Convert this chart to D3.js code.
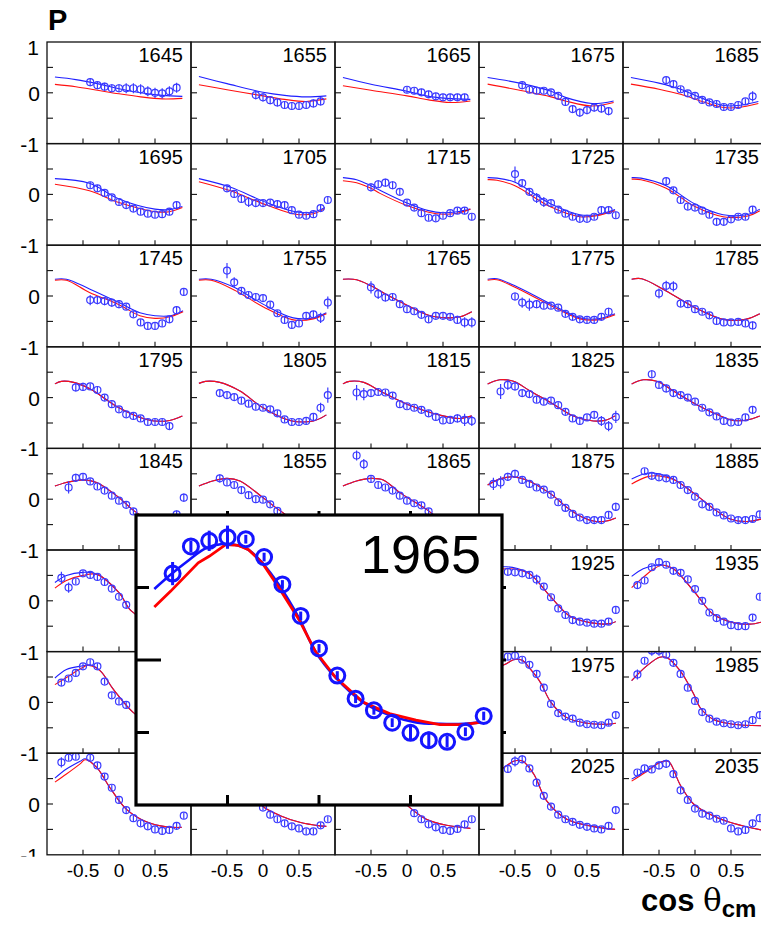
<!DOCTYPE html>
<html>
<head>
<meta charset="utf-8">
<script src="https://cdn.jsdelivr.net/npm/d3@7"></script>
<style>
  html, body { margin: 0; background: #fff; }
  svg { display: block; font-family: "Liberation Sans", Arial, sans-serif; }
</style>
</head>
<body>
<svg id="chart" width="761" height="926"></svg>
<script>
/* Polarisation P vs cos(theta_cm), one small panel per energy bin,
 * plus an enlarged copy of the 1965 bin on top. */

const energies = [
  1645, 1655, 1665, 1675, 1685,
  1695, 1705, 1715, 1725, 1735,
  1745, 1755, 1765, 1775, 1785,
  1795, 1805, 1815, 1825, 1835,
  1845, 1855, 1865, 1875, 1885,
  1895, 1905, 1915, 1925, 1935,
  1945, 1955, 1965, 1975, 1985,
  1995, 2005, 2015, 2025, 2035
];

// data points per panel: [cos theta, P, error]  (error missing -> 0.06)
const points = [
  [[-0.4,0.21,0.08],[-0.3,0.15,0.08],[-0.2,0.12,0.08],[-0.1,0.09,0.08],[0,0.09,0.08],[0.1,0.09,0.1],[0.2,0.09,0.1],[0.3,0.07,0.1],[0.4,0.03,0.1],[0.5,0.0,0.1],[0.6,-0.01,0.1],[0.7,0.03,0.1],[0.8,0.1,0.1]],
  [[-0.1,-0.045,0.08],[0,-0.09,0.08],[0.1,-0.145,0.08],[0.2,-0.19,0.08],[0.3,-0.24,0.08],[0.4,-0.26,0.08],[0.5,-0.26,0.08],[0.6,-0.24,0.08],[0.7,-0.21,0.08],[0.8,-0.17,0.08]],
  [[0,0.06,0.07],[0.1,0.04,0.07],[0.2,0.01,0.07],[0.3,-0.03,0.07],[0.4,-0.07,0.07],[0.5,-0.09,0.07],[0.6,-0.09,0.07],[0.7,-0.09,0.07],[0.8,-0.09,0.07]],
  [[-0.4,0.15,0.08],[-0.3,0.06],[-0.2,0.04],[-0.1,0.04],[0,0.01],[0.1,-0.06],[0.2,-0.18,0.08],[0.3,-0.32,0.08],[0.4,-0.39,0.08],[0.5,-0.34,0.08],[0.6,-0.29,0.08],[0.7,-0.31,0.08],[0.8,-0.36,0.08]],
  [[-0.4,0.25],[-0.3,0.17],[-0.2,0.07],[-0.1,-0.01],[0,-0.06],[0.1,-0.14],[0.2,-0.19],[0.3,-0.22],[0.4,-0.28],[0.5,-0.28],[0.6,-0.24],[0.7,-0.17],[0.8,-0.07,0.1]],
  [[-0.4,0.18,0.07],[-0.3,0.12,0.07],[-0.2,0.03,0.07],[-0.1,-0.06],[0,-0.15],[0.1,-0.21],[0.2,-0.28],[0.3,-0.34],[0.4,-0.38],[0.5,-0.40],[0.6,-0.39,0.07],[0.7,-0.34,0.07],[0.8,-0.21,0.07]],
  [[-0.5,0.12,0.07],[-0.4,0.01,0.07],[-0.3,-0.09,0.07],[-0.2,-0.15,0.1],[-0.1,-0.17,0.07],[0,-0.17],[0.1,-0.16],[0.2,-0.19],[0.3,-0.21,0.07],[0.4,-0.31],[0.5,-0.40],[0.6,-0.42],[0.7,-0.39],[0.8,-0.27,0.07],[0.9,-0.11,0.08]],
  [[-0.5,0.14,0.08],[-0.4,0.20,0.08],[-0.3,0.23,0.08],[-0.2,0.18,0.08],[-0.1,0.05],[0,-0.16],[0.1,-0.26],[0.2,-0.37],[0.3,-0.46],[0.4,-0.47],[0.5,-0.42],[0.6,-0.37],[0.7,-0.32],[0.8,-0.32,0.07],[0.9,-0.44,0.07]],
  [[-0.5,0.40,0.15],[-0.4,0.22,0.08],[-0.3,0.05],[-0.2,-0.07,0.1],[-0.1,-0.15,0.1],[0,-0.17,0.07],[0.1,-0.30],[0.2,-0.38],[0.3,-0.44],[0.4,-0.48],[0.5,-0.48],[0.6,-0.44],[0.7,-0.31,0.07],[0.8,-0.31,0.07],[0.9,-0.41,0.07]],
  [[-0.4,0.26,0.07],[-0.3,0.08],[-0.2,-0.11],[-0.1,-0.24],[0,-0.26],[0.1,-0.32],[0.2,-0.40],[0.3,-0.54],[0.4,-0.54],[0.5,-0.49],[0.6,-0.44],[0.7,-0.44],[0.8,-0.30,0.07]],
  [[-0.4,-0.08,0.1],[-0.3,-0.08,0.08],[-0.2,-0.10,0.08],[-0.1,-0.13,0.08],[0,-0.16,0.08],[0.1,-0.21],[0.2,-0.36],[0.3,-0.52],[0.4,-0.59],[0.5,-0.59],[0.6,-0.54],[0.7,-0.46,0.07],[0.8,-0.28,0.07],[0.9,0.08]],
  [[-0.5,0.5,0.15],[-0.4,0.27,0.1],[-0.3,0.1],[-0.2,0.02],[-0.1,-0.02],[0,-0.04],[0.1,-0.17],[0.2,-0.34],[0.3,-0.47],[0.4,-0.57],[0.5,-0.54],[0.6,-0.39],[0.7,-0.36,0.07],[0.8,-0.43,0.1],[0.9,-0.13,0.12]],
  [[-0.5,0.17,0.12],[-0.4,0.04,0.1],[-0.3,-0.03,0.08],[-0.2,-0.02],[-0.1,-0.16],[0,-0.26],[0.1,-0.30],[0.2,-0.37],[0.3,-0.46],[0.4,-0.39],[0.5,-0.39],[0.6,-0.41],[0.7,-0.47,0.08],[0.8,-0.52,0.1],[0.9,-0.52,0.1]],
  [[-0.5,-0.01,0.08],[-0.4,-0.13,0.1],[-0.3,-0.17,0.12],[-0.2,-0.16,0.08],[-0.1,-0.19],[0,-0.19],[0.1,-0.23],[0.2,-0.35],[0.3,-0.41],[0.4,-0.46],[0.5,-0.47],[0.6,-0.47],[0.7,-0.41],[0.8,-0.31,0.08]],
  [[-0.5,0.05,0.1],[-0.4,0.2,0.1],[-0.3,0.19,0.1],[-0.2,-0.15],[-0.1,-0.16],[0,-0.26],[0.1,-0.31],[0.2,-0.38],[0.3,-0.49],[0.4,-0.52],[0.5,-0.52],[0.6,-0.51],[0.7,-0.54],[0.8,-0.58,0.08]],
  [[-0.6,0.2,0.08],[-0.5,0.21,0.08],[-0.4,0.22],[-0.3,0.15],[-0.2,0.0],[-0.1,-0.13],[0,-0.23],[0.1,-0.33],[0.2,-0.36],[0.3,-0.41],[0.4,-0.48],[0.5,-0.48],[0.6,-0.48],[0.7,-0.56]],
  [[-0.6,0.09],[-0.5,0.05],[-0.4,0.01],[-0.3,-0.06],[-0.2,-0.12],[-0.1,-0.18],[0,-0.2],[0.1,-0.23],[0.2,-0.31],[0.3,-0.43],[0.4,-0.48],[0.5,-0.48],[0.6,-0.46],[0.7,-0.38],[0.8,-0.2,0.1],[0.9,0.05,0.15]],
  [[-0.7,0.1,0.15],[-0.6,0.07,0.12],[-0.5,0.09],[-0.4,0.11],[-0.3,0.1],[-0.2,0.04],[-0.1,-0.13],[0,-0.17],[0.1,-0.2],[0.2,-0.24],[0.3,-0.31],[0.4,-0.38],[0.5,-0.45],[0.6,-0.44],[0.7,-0.41,0.08],[0.8,-0.44,0.12],[0.9,-0.46,0.1]],
  [[-0.7,0.12,0.15],[-0.6,0.25,0.1],[-0.5,0.22,0.08],[-0.4,0.09],[-0.3,0.07],[-0.2,-0.04],[-0.1,-0.08],[0,-0.06],[0.1,-0.15],[0.2,-0.28],[0.3,-0.41],[0.4,-0.46],[0.5,-0.39],[0.6,-0.34],[0.7,-0.46,0.1],[0.8,-0.56,0.1],[0.9,-0.38,0.12]],
  [[-0.6,0.46,0.08],[-0.5,0.25],[-0.4,0.18,0.08],[-0.3,0.09],[-0.2,0.05],[-0.1,0.0],[0,-0.08],[0.1,-0.2],[0.2,-0.29],[0.3,-0.37],[0.4,-0.46],[0.5,-0.49],[0.6,-0.48],[0.7,-0.39],[0.8,-0.24,0.07]],
  [[-0.7,0.23,0.12],[-0.6,0.42,0.08],[-0.5,0.44],[-0.4,0.35],[-0.3,0.25],[-0.2,0.17],[-0.1,0.07],[0,-0.03],[0.1,-0.11],[0.2,-0.24],[0.8,-0.3,0.08],[0.9,0.03,0.08]],
  [[-0.6,0.41,0.08],[-0.5,0.33],[-0.4,0.28],[-0.3,0.18],[-0.2,0.08],[-0.1,0.0],[0,-0.01],[0.1,-0.1],[0.2,-0.23]],
  [[-0.7,0.86,0.1],[-0.6,0.69,0.1],[-0.5,0.4],[-0.4,0.28],[-0.3,0.23],[-0.2,0.17],[-0.1,0.07],[0,-0.03],[0.1,-0.08],[0.2,-0.12],[0.3,-0.24]],
  [[-0.8,0.3,0.12],[-0.7,0.33,0.12],[-0.6,0.44,0.08],[-0.5,0.5,0.08],[-0.4,0.38],[-0.3,0.3],[-0.2,0.23],[-0.1,0.19],[0,0.09],[0.1,-0.06],[0.2,-0.17],[0.3,-0.29],[0.4,-0.36],[0.5,-0.41],[0.6,-0.41],[0.7,-0.41],[0.8,-0.31],[0.9,-0.15,0.08]],
  [[-0.7,0.55],[-0.6,0.46],[-0.5,0.43],[-0.4,0.41],[-0.3,0.38],[-0.2,0.28],[-0.1,0.18],[0,0.05],[0.1,-0.1],[0.2,-0.15],[0.3,-0.26],[0.4,-0.32],[0.5,-0.38],[0.6,-0.41],[0.7,-0.41],[0.8,-0.39],[0.9,-0.3,0.07]],
  [[-0.8,0.45,0.12],[-0.7,0.26,0.1],[-0.6,0.38],[-0.5,0.54],[-0.4,0.51],[-0.3,0.47],[-0.2,0.37],[-0.1,0.24],[0,0.08],[0.1,-0.08]],
  [],
  [],
  [[-0.6,0.57],[-0.5,0.56],[-0.4,0.54],[-0.3,0.51],[-0.2,0.42,0.1],[-0.1,0.28],[0,0.07],[0.1,-0.15],[0.2,-0.28],[0.3,-0.38],[0.4,-0.41],[0.5,-0.43],[0.6,-0.45],[0.7,-0.45],[0.8,-0.41],[0.9,-0.18]],
  [[-0.8,0.31,0.08],[-0.7,0.4],[-0.6,0.66],[-0.5,0.76,0.08],[-0.4,0.71],[-0.3,0.59],[-0.2,0.55],[-0.1,0.42],[0,0.23],[0.1,0.0],[0.2,-0.23],[0.3,-0.34],[0.4,-0.41],[0.5,-0.48],[0.6,-0.5],[0.7,-0.5],[0.8,-0.33],[0.9,0.08]],
  [[-0.8,0.39],[-0.7,0.47],[-0.6,0.58],[-0.5,0.71],[-0.4,0.79],[-0.3,0.71],[-0.2,0.41],[-0.1,0.14],[0,0.02],[0.1,-0.05]],
  [],
  null,
  [[-0.6,0.9],[-0.5,0.92],[-0.4,0.84],[-0.3,0.74],[-0.2,0.56],[-0.1,0.29],[0,-0.03],[0.1,-0.21],[0.2,-0.28],[0.3,-0.32],[0.4,-0.4],[0.5,-0.43],[0.6,-0.44],[0.7,-0.45],[0.8,-0.4],[0.9,-0.25]],
  [[-0.8,0.55,0.1],[-0.7,0.82],[-0.6,1.02,0.1],[-0.5,1.02,0.1],[-0.4,0.94],[-0.3,0.78],[-0.2,0.56],[-0.1,0.29],[0,0.03],[0.1,-0.19],[0.2,-0.32],[0.3,-0.38],[0.4,-0.41],[0.5,-0.43],[0.6,-0.45],[0.7,-0.43],[0.8,-0.35],[0.9,-0.25]],
  [[-0.8,0.82,0.1],[-0.7,0.91],[-0.6,0.93],[-0.4,0.91],[-0.3,0.76],[-0.2,0.54],[-0.1,0.32],[0,0.08],[0.1,-0.12],[0.2,-0.28],[0.3,-0.38],[0.4,-0.44],[0.5,-0.5],[0.6,-0.53],[0.7,-0.51],[0.8,-0.43],[0.9,-0.23]],
  [[0,-0.07],[0.1,-0.21],[0.2,-0.3],[0.3,-0.38],[0.4,-0.44],[0.5,-0.48],[0.6,-0.54],[0.7,-0.54],[0.8,-0.42],[0.9,-0.3]],
  [[0.1,-0.18],[0.2,-0.3],[0.3,-0.4],[0.4,-0.46],[0.5,-0.51],[0.6,-0.53],[0.7,-0.49],[0.8,-0.4],[0.9,-0.3]],
  [[-0.6,0.69,0.08],[-0.5,0.84,0.1],[-0.4,0.88,0.08],[-0.3,0.7],[-0.2,0.42],[-0.1,0.16],[0,-0.05],[0.1,-0.21],[0.2,-0.3],[0.3,-0.35],[0.4,-0.41],[0.5,-0.45],[0.6,-0.48],[0.7,-0.5],[0.8,-0.43],[0.9,-0.12]],
  [[-0.8,0.62],[-0.7,0.7],[-0.6,0.68],[-0.5,0.76,0.08],[-0.4,0.79,0.08],[-0.3,0.59],[-0.2,0.27],[-0.1,0.08],[0,-0.09],[0.1,-0.19],[0.2,-0.23],[0.3,-0.29],[0.4,-0.33],[0.5,-0.48],[0.6,-0.54],[0.7,-0.51],[0.8,-0.38],[0.9,-0.28]]
];

// blue fit curve per panel, [cos theta, P]
const blueFit = [
  [[-0.89,0.31],[-0.6,0.26],[-0.3,0.18],[0,0.08],[0.3,0.0],[0.6,-0.05],[0.88,-0.07]],
  [[-0.89,0.32],[-0.5,0.18],[0,0.01],[0.3,-0.05],[0.6,-0.08],[0.88,-0.06]],
  [[-0.89,0.30],[-0.5,0.17],[0,0.03],[0.3,-0.07],[0.55,-0.11],[0.88,-0.13]],
  [[-0.88,0.30],[-0.4,0.18],[0,0.03],[0.2,-0.09],[0.57,-0.21],[0.87,-0.16]],
  [[-0.89,0.30],[-0.5,0.19],[-0.2,0.07],[0.1,-0.11],[0.4,-0.25],[0.6,-0.25],[0.88,-0.17]],
  [[-0.89,0.31],[-0.41,0.22],[0,-0.09],[0.5,-0.29],[0.7,-0.30],[0.88,-0.24]],
  [[-0.89,0.31],[-0.45,0.14],[0.05,-0.16],[0.45,-0.34],[0.7,-0.35],[0.86,-0.26]],
  [[-0.89,0.33],[-0.7,0.29],[-0.5,0.17],[-0.375,0.08],[0,-0.17],[0.3,-0.32],[0.5,-0.36],[0.7,-0.34],[0.88,-0.29]],
  [[-0.88,0.33],[-0.75,0.32],[-0.5,0.24],[0,-0.19],[0.4,-0.40],[0.63,-0.40],[0.89,-0.30]],
  [[-0.88,0.33],[-0.75,0.32],[-0.4,0.17],[0,-0.19],[0.39,-0.40],[0.72,-0.40],[0.9,-0.29]],
  [[-0.89,0.33],[-0.73,0.33],[-0.41,0.14],[0,-0.13],[0.29,-0.33],[0.5,-0.39],[0.71,-0.39],[0.89,-0.29]],
  [[-0.89,0.33],[-0.72,0.33],[-0.4,0.17],[0,-0.16],[0.42,-0.43],[0.7,-0.43],[0.88,-0.33]],
  [[-0.89,0.33],[-0.7,0.32],[-0.5,0.2],[-0.3,0.04],[0,-0.18],[0.3,-0.38],[0.55,-0.43],[0.74,-0.41],[0.9,-0.31]],
  [[-0.88,0.33],[-0.75,0.34],[-0.5,0.2],[0,-0.16],[0.4,-0.43],[0.65,-0.45],[0.89,-0.35]],
  [[-0.88,0.33],[-0.74,0.34],[-0.4,0.1],[0,-0.23],[0.39,-0.46],[0.7,-0.46],[0.9,-0.35]],
  [[-0.89,0.27],[-0.8,0.32],[-0.63,0.30],[-0.4,0.17],[0,-0.2],[0.38,-0.43],[0.66,-0.46],[0.88,-0.36]],
  [[-0.89,0.28],[-0.8,0.32],[-0.6,0.3],[-0.32,0.13],[0,-0.2],[0.37,-0.45],[0.7,-0.46],[0.88,-0.34]],
  [[-0.89,0.27],[-0.8,0.32],[-0.6,0.3],[-0.375,0.13],[0,-0.13],[0.5,-0.36],[0.74,-0.41],[0.9,-0.36]],
  [[-0.88,0.27],[-0.71,0.35],[-0.52,0.32],[-0.29,0.13],[0,-0.1],[0.31,-0.36],[0.59,-0.46],[0.77,-0.44],[0.89,-0.36]],
  [[-0.88,0.27],[-0.72,0.35],[-0.53,0.32],[-0.3,0.13],[0,-0.12],[0.3,-0.33],[0.53,-0.45],[0.72,-0.44],[0.9,-0.36]],
  [[-0.89,0.26],[-0.73,0.33],[-0.5,0.38],[-0.31,0.33],[0,0.03],[0.2,-0.22],[0.5,-0.47],[0.7,-0.48],[0.9,-0.38]],
  [[-0.89,0.26],[-0.7,0.36],[-0.5,0.41],[-0.32,0.36],[0,0.03],[0.24,-0.23],[0.5,-0.45],[0.9,-0.4]],
  [[-0.89,0.26],[-0.7,0.36],[-0.5,0.41],[-0.33,0.38],[-0.1,0.13],[0.27,-0.2],[0.5,-0.42],[0.9,-0.4]],
  [[-0.88,0.28],[-0.71,0.4],[-0.52,0.44],[-0.34,0.38],[0,0.1],[0.22,-0.16],[0.4,-0.33],[0.59,-0.43],[0.77,-0.43],[0.9,-0.37]],
  [[-0.88,0.40],[-0.67,0.51],[-0.5,0.5],[-0.3,0.4],[0,0.1],[0.3,-0.23],[0.49,-0.39],[0.72,-0.44],[0.92,-0.39]],
  [[-0.89,0.36],[-0.73,0.5],[-0.5,0.56],[-0.31,0.53],[0,0.16],[0.17,-0.2],[0.5,-0.45],[0.9,-0.4]],
  [],
  [],
  [[-0.89,0.65],[-0.62,0.67],[-0.48,0.64],[-0.29,0.53],[0,0.07],[0.26,-0.3],[0.54,-0.43],[0.82,-0.45],[0.9,-0.41]],
  [[-0.88,0.48],[-0.72,0.63],[-0.58,0.69],[-0.46,0.71],[-0.3,0.63],[0,0.16],[0.25,-0.26],[0.53,-0.43],[0.76,-0.46],[0.92,-0.42]],
  [[-0.89,0.48],[-0.73,0.65],[-0.5,0.72],[-0.4,0.74],[-0.26,0.62],[-0.08,0.26],[0.2,-0.2],[0.5,-0.45],[0.9,-0.42]],
  [],
  null,
  [[-0.89,0.55],[-0.75,0.68],[-0.62,0.76],[-0.52,0.84],[-0.4,0.83],[-0.29,0.66],[-0.15,0.4],[0,0.0],[0.22,-0.3],[0.5,-0.41],[0.77,-0.43],[0.9,-0.41]],
  [[-0.88,0.43],[-0.67,0.72],[-0.49,0.89],[-0.39,0.88],[-0.21,0.63],[-0.02,0.17],[0.07,-0.1],[0.25,-0.33],[0.53,-0.43],[0.92,-0.46]],
  [[-0.89,0.51],[-0.73,0.69],[-0.54,0.84],[-0.47,0.89],[-0.31,0.72],[-0.13,0.33],[0.1,-0.1],[0.38,-0.35],[0.66,-0.45],[0.87,-0.46]],
  [[-0.15,0.2],[0,-0.05],[0.24,-0.23],[0.51,-0.36],[0.79,-0.43],[0.88,-0.44]],
  [[-0.15,0.2],[0.04,-0.07],[0.27,-0.3],[0.55,-0.42],[0.88,-0.48]],
  [[-0.89,0.5],[-0.62,0.75],[-0.52,0.84],[-0.4,0.85],[-0.24,0.59],[-0.06,0.06],[0.22,-0.3],[0.54,-0.43],[0.89,-0.5]],
  [[-0.88,0.49],[-0.67,0.66],[-0.49,0.82],[-0.37,0.84],[-0.21,0.39],[-0.02,0.0],[0.25,-0.23],[0.53,-0.38],[0.92,-0.51]]
];

// red fit curve per panel (null: it sits on the blue one, so the blue values are reused)
const redFit = [
  [[-0.89,0.165],[-0.6,0.12],[-0.3,0.05],[0,-0.02],[0.3,-0.08],[0.6,-0.12],[0.88,-0.11]],
  [[-0.89,0.16],[-0.5,0.06],[0,-0.06],[0.3,-0.13],[0.6,-0.17],[0.88,-0.12]],
  [[-0.89,0.14],[-0.5,0.05],[0,-0.06],[0.3,-0.14],[0.6,-0.19],[0.88,-0.16]],
  [[-0.88,0.17],[-0.4,0.04],[0,-0.08],[0.2,-0.16],[0.57,-0.26],[0.87,-0.19]],
  [[-0.89,0.17],[-0.5,0.07],[-0.2,-0.03],[0.1,-0.17],[0.4,-0.29],[0.6,-0.29],[0.88,-0.21]],
  [[-0.89,0.2],[-0.41,0.07],[0,-0.16],[0.5,-0.34],[0.7,-0.34],[0.88,-0.26]],
  [[-0.89,0.25],[-0.45,0.07],[0.05,-0.21],[0.45,-0.39],[0.7,-0.38],[0.86,-0.28]],
  [[-0.89,0.27],[-0.7,0.23],[-0.5,0.12],[-0.375,0.02],[0,-0.22],[0.3,-0.35],[0.5,-0.39],[0.7,-0.37],[0.88,-0.29]],
  [[-0.88,0.29],[-0.75,0.28],[-0.5,0.17],[0,-0.25],[0.4,-0.44],[0.63,-0.42],[0.89,-0.32]],
  [[-0.88,0.30],[-0.75,0.29],[-0.4,0.12],[0,-0.24],[0.39,-0.44],[0.72,-0.43],[0.9,-0.32]],
  [[-0.89,0.31],[-0.73,0.31],[-0.41,0.07],[0,-0.17],[0.29,-0.39],[0.5,-0.44],[0.71,-0.41],[0.89,-0.31]],
  [[-0.89,0.31],[-0.72,0.31],[-0.4,0.12],[0,-0.21],[0.42,-0.47],[0.7,-0.45],[0.88,-0.35]],
  null,
  [[-0.88,0.31],[-0.75,0.32],[-0.5,0.17],[0,-0.19],[0.4,-0.45],[0.65,-0.47],[0.89,-0.37]],
  null, null, null, null, null, null,
  null, null, null, null,
  [[-0.88,0.3],[-0.67,0.44],[-0.5,0.46],[-0.3,0.39],[0,0.1],[0.3,-0.23],[0.49,-0.39],[0.72,-0.44],[0.92,-0.39]],
  [[-0.89,0.25],[-0.73,0.4],[-0.5,0.5],[-0.31,0.52],[0,0.16],[0.17,-0.2],[0.5,-0.45],[0.9,-0.4]],
  [],
  [],
  [[-0.89,0.6],[-0.62,0.63],[-0.48,0.62],[-0.29,0.52],[0,0.07],[0.26,-0.3],[0.54,-0.43],[0.82,-0.45],[0.9,-0.41]],
  [[-0.88,0.26],[-0.72,0.46],[-0.58,0.62],[-0.46,0.7],[-0.3,0.63],[0,0.16],[0.25,-0.26],[0.53,-0.43],[0.76,-0.46],[0.92,-0.42]],
  [[-0.89,0.35],[-0.73,0.49],[-0.5,0.69],[-0.43,0.73],[-0.26,0.62],[-0.08,0.26],[0.2,-0.2],[0.5,-0.45],[0.9,-0.42]],
  [],
  null,
  null,
  null,
  [[-0.89,0.43],[-0.73,0.59],[-0.54,0.79],[-0.47,0.87],[-0.31,0.72],[-0.13,0.33],[0.1,-0.1],[0.38,-0.35],[0.66,-0.45],[0.87,-0.46]],
  null,
  null,
  null,
  [[-0.88,0.45],[-0.67,0.64],[-0.49,0.81],[-0.37,0.84],[-0.21,0.39],[-0.02,0.0],[0.25,-0.23],[0.53,-0.38],[0.92,-0.51]]
];

// enlarged 1965 bin
const insetEnergy = 1965;
const insetPoints = [
  [-0.8,0.596,0.08],[-0.7,0.783,0.04],[-0.6,0.822,0.07],[-0.5,0.847,0.08],[-0.4,0.833,0.03],
  [-0.3,0.71,0.03],[-0.2,0.521,0.03],[-0.1,0.304,0.03],[0,0.08,0.03],[0.1,-0.107,0.03],
  [0.2,-0.267,0.03],[0.3,-0.347,0.03],[0.4,-0.432,0.03],[0.5,-0.502,0.05],[0.6,-0.553,0.06],
  [0.7,-0.564,0.04],[0.8,-0.495,0.03],[0.9,-0.386,0.03]
];
const insetBlue = [
  [-0.9,0.49],[-0.81,0.59],[-0.71,0.69],[-0.62,0.77],[-0.53,0.8],[-0.46,0.795],[-0.385,0.76],
  [-0.31,0.67],[-0.22,0.52],[-0.11,0.29],[-0.02,0.06],[0.09,-0.12],[0.24,-0.29],[0.385,-0.38],
  [0.53,-0.43],[0.66,-0.44],[0.79,-0.44],[0.88,-0.43]
];
const insetRed = [
  [-0.9,0.365],[-0.81,0.475],[-0.66,0.67],[-0.6,0.715],[-0.51,0.795],[-0.44,0.79],[-0.385,0.76],
  [-0.31,0.67],[-0.22,0.5],[-0.11,0.28],[-0.02,0.06],[0.09,-0.12],[0.24,-0.29],[0.385,-0.37],
  [0.53,-0.415],[0.66,-0.445],[0.79,-0.445],[0.88,-0.43]
];

const xTicks = [-0.5, 0, 0.5];
const xTickLabels = ["-0.5", "0", "0.5"];
const yTicks = [-0.5, 0, 0.5];

/* ---- layout ---------------------------------------------------------- */
const svg = d3.select('#chart');
const LEFT = 47, TOP = 42, COLW = 144, ROWH = 101.6, NCOL = 5;
const NROW = Math.ceil(energies.length / NCOL);
const BLUE = '#1f1fff', PTBLUE = '#3b3bff', RED = '#ff1010', INK = '#111';

// enlarged panel box (drawn last, on top of the grid)
const IX0 = 136, IX1 = 502, IY0 = 515, IY1 = 805;

svg.append('rect').attr('width', 761).attr('height', 926).attr('fill', '#fff');
const defs = svg.append('defs');

function drawPanel(i) {
  const c = i % NCOL, r = Math.floor(i / NCOL);
  const x0 = LEFT + c * COLW, y0 = TOP + r * ROWH;
  const x = d3.scaleLinear().domain([-1, 1]).range([x0, x0 + COLW]);
  const y = d3.scaleLinear().domain([-1, 1]).range([y0 + ROWH, y0]);

  let pts = points[i], bl = blueFit[i], rd = redFit[i];
  if (energies[i] === insetEnergy) { pts = insetPoints; bl = insetBlue; rd = insetRed; }
  if (rd == null) rd = bl;

  const id = 'clip' + i;
  defs.append('clipPath').attr('id', id)
    .append('rect').attr('x', x0).attr('y', y0).attr('width', COLW).attr('height', ROWH);

  const g = svg.append('g');
  const inner = g.append('g').attr('clip-path', `url(#${id})`);

  const line = d3.line().x(d => x(d[0])).y(d => y(d[1])).curve(d3.curveCatmullRom.alpha(0.5));
  if (bl.length) inner.append('path').attr('d', line(bl)).attr('fill', 'none')
    .attr('stroke', BLUE).attr('stroke-width', 1.1);
  if (rd.length) inner.append('path').attr('d', line(rd)).attr('fill', 'none')
    .attr('stroke', RED).attr('stroke-width', 1.1);

  const pg = inner.append('g').attr('stroke', PTBLUE).attr('fill', 'none').attr('stroke-width', 1.2);
  pg.selectAll('line').data(pts).enter().append('line')
    .attr('x1', d => x(d[0])).attr('x2', d => x(d[0]))
    .attr('y1', d => y(d[1] + (d[2] == null ? 0.06 : d[2])))
    .attr('y2', d => y(d[1] - (d[2] == null ? 0.06 : d[2])));
  pg.selectAll('circle').data(pts).enter().append('circle')
    .attr('cx', d => x(d[0])).attr('cy', d => y(d[1])).attr('r', 3.5);

  // frame and ticks
  g.append('rect').attr('x', x0).attr('y', y0).attr('width', COLW).attr('height', ROWH)
    .attr('fill', 'none').attr('stroke', INK).attr('stroke-width', 1.3);
  g.selectAll('line.yt').data(yTicks).enter().append('line').attr('class', 'yt')
    .attr('x1', x0).attr('x2', x0 + 6).attr('y1', d => y(d)).attr('y2', d => y(d))
    .attr('stroke', INK).attr('stroke-width', 1.1);
  g.selectAll('line.xt').data(xTicks).enter().append('line').attr('class', 'xt')
    .attr('x1', d => x(d)).attr('x2', d => x(d)).attr('y1', y0 + ROWH).attr('y2', y0 + ROWH - 5)
    .attr('stroke', INK).attr('stroke-width', 1.1);

  // energy label, skipped where the enlarged panel would cover it anyway
  const lx = x0 + COLW - 8, ly = y0 + 20;
  const covered = lx > IX0 && lx - 48 < IX1 && ly > IY0 && ly - 15 < IY1;
  if (!covered) {
    g.append('text').attr('x', lx).attr('y', ly)
      .attr('text-anchor', 'end').attr('font-size', 20).attr('fill', '#000')
      .text(energies[i]);
  }
}

energies.forEach((e, i) => drawPanel(i));

// left axis labels
const yl = svg.append('g').attr('font-size', 21).attr('text-anchor', 'end').attr('fill', '#000');
defs.append('clipPath').attr('id', 'ylclip').append('rect')
  .attr('x', 0).attr('y', 0).attr('width', 46).attr('height', TOP + NROW * ROWH + 2);
yl.attr('clip-path', 'url(#ylclip)');
for (let r = 0; r < NROW; r++) {
  const y0 = TOP + r * ROWH;
  if (r === 0) yl.append('text').attr('x', 39).attr('y', y0 + 13).text('1');
  yl.append('text').attr('x', 40).attr('y', y0 + ROWH / 2 + 8).text('0');
  yl.append('text').attr('x', 39).attr('y', y0 + ROWH + 8).text('-1');
}

// bottom tick labels
const xl = svg.append('g').attr('font-size', 19).attr('text-anchor', 'middle').attr('fill', '#000');
for (let c = 0; c < NCOL; c++) {
  const x = d3.scaleLinear().domain([-1, 1]).range([LEFT + c * COLW, LEFT + (c + 1) * COLW]);
  xTicks.forEach((t, k) => {
    xl.append('text').attr('x', x(t)).attr('y', TOP + NROW * ROWH + 22).text(xTickLabels[k]);
  });
}

// axis titles
svg.append('text').attr('x', 48).attr('y', 30).attr('font-size', 29).attr('font-weight', 'bold').text('P');
const xt = svg.append('text').attr('x', 641).attr('y', 911).attr('font-size', 31).attr('font-weight', 'bold');
xt.append('tspan').text('cos ');
xt.append('tspan').attr('font-weight', 'normal').attr('font-family', '"DejaVu Serif", serif')
  .attr('font-size', 31).text('θ');
xt.append('tspan').attr('font-size', 24).attr('dy', 6).text('cm');

/* ---- inset ----------------------------------------------------------- */
const ix = d3.scaleLinear().domain([-1, 1]).range([IX0, IX1]);
const iy = d3.scaleLinear().domain([-1, 1]).range([IY1, IY0]);
const ig = svg.append('g');
ig.append('rect').attr('x', IX0).attr('y', IY0).attr('width', IX1 - IX0).attr('height', IY1 - IY0)
  .attr('fill', '#fff');

const iline = d3.line().x(d => ix(d[0])).y(d => iy(d[1]));
ig.append('path').attr('d', iline.curve(d3.curveCatmullRom.alpha(0.5))(insetBlue)).attr('fill', 'none')
  .attr('stroke', '#1010ff').attr('stroke-width', 2.6);
ig.append('path').attr('d', iline.curve(d3.curveLinear)(insetRed)).attr('fill', 'none')
  .attr('stroke', '#ff0000').attr('stroke-width', 2.8);

const ipg = ig.append('g').attr('stroke', '#1515ff').attr('fill', 'none').attr('stroke-width', 3);
ipg.selectAll('line').data(insetPoints).enter().append('line')
  .attr('x1', d => ix(d[0])).attr('x2', d => ix(d[0]))
  .attr('y1', d => iy(d[1] + d[2])).attr('y2', d => iy(d[1] - d[2]));
ipg.selectAll('circle').data(insetPoints).enter().append('circle')
  .attr('cx', d => ix(d[0])).attr('cy', d => iy(d[1])).attr('r', 7.5);

ig.append('text').attr('x', 481).attr('y', 573).attr('text-anchor', 'end')
  .attr('font-size', 54).attr('fill', '#000').text(insetEnergy);

ig.append('rect').attr('x', IX0).attr('y', IY0).attr('width', IX1 - IX0).attr('height', IY1 - IY0)
  .attr('fill', 'none').attr('stroke', '#000').attr('stroke-width', 3.2);
ig.selectAll('line.ly').data(yTicks).enter().append('line')
  .attr('x1', IX0).attr('x2', d => IX0 + (d === 0 ? 25 : 13))
  .attr('y1', d => iy(d)).attr('y2', d => iy(d)).attr('stroke', '#000').attr('stroke-width', 3);
ig.selectAll('line.ry').data(yTicks).enter().append('line')
  .attr('x1', IX1).attr('x2', IX1 + 4)
  .attr('y1', d => iy(d)).attr('y2', d => iy(d)).attr('stroke', '#000').attr('stroke-width', 3);
ig.selectAll('line.bx').data(xTicks).enter().append('line')
  .attr('x1', d => ix(d)).attr('x2', d => ix(d))
  .attr('y1', IY1).attr('y2', IY1 - 10).attr('stroke', '#000').attr('stroke-width', 3);
ig.selectAll('line.tx').data(xTicks).enter().append('line')
  .attr('x1', d => ix(d)).attr('x2', d => ix(d))
  .attr('y1', IY0).attr('y2', IY0 - 4).attr('stroke', '#000').attr('stroke-width', 3);
</script>
</body>
</html>
